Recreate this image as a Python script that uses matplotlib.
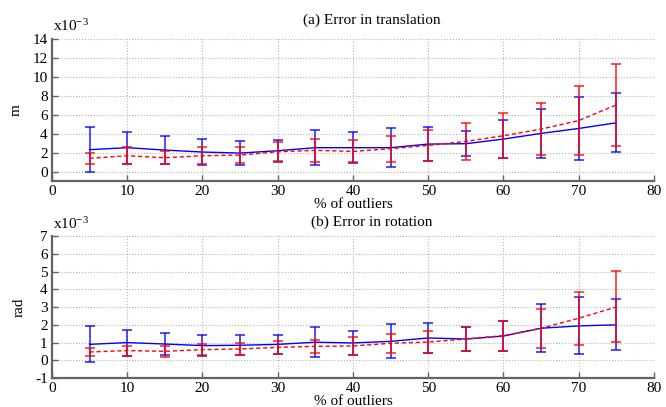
import numpy as np
import matplotlib
matplotlib.use('Agg')
import matplotlib.pyplot as plt

plt.rcParams['font.family'] = ['Liberation Serif', 'DejaVu Serif']
plt.rcParams['mathtext.default'] = 'regular'
plt.rcParams['axes.unicode_minus'] = False
plt.rcParams['font.size'] = 11

##Data (values in units of 1e-3)
outliers = [5, 10, 15, 20, 25, 30, 35, 40, 45, 50, 55, 60, 65, 70, 75]

#(a) translation, blue solid
trans_blue = [2.32, 2.53, 2.28, 2.07, 1.96, 2.21, 2.53, 2.53, 2.53, 2.91, 2.95, 3.44, 4.04, 4.56, 5.16]
trans_blue_err = [2.37, 1.68, 1.50, 1.37, 1.30, 1.17, 1.86, 1.65, 2.08, 1.80, 1.33, 2.04, 2.58, 3.35, 3.10]
#(a) translation, red dashed
trans_red = [1.40, 1.68, 1.47, 1.68, 1.75, 2.10, 2.25, 2.14, 2.42, 2.77, 3.19, 3.79, 4.49, 5.40, 7.05]
trans_red_err = [0.58, 0.87, 0.70, 0.90, 0.84, 0.98, 1.23, 1.16, 1.38, 1.63, 1.93, 2.37, 2.76, 3.60, 4.30]

#(b) rotation, blue solid
rot_blue = [0.90, 1.00, 0.92, 0.83, 0.85, 0.90, 1.02, 0.98, 1.07, 1.26, 1.20, 1.37, 1.81, 1.94, 2.00]
rot_blue_err = [1.02, 0.73, 0.63, 0.58, 0.56, 0.55, 0.85, 0.70, 0.95, 0.82, 0.70, 0.85, 1.35, 1.60, 1.43]
#(b) rotation, red dashed
rot_red = [0.47, 0.55, 0.51, 0.60, 0.64, 0.73, 0.79, 0.81, 0.96, 1.03, 1.20, 1.39, 1.81, 2.37, 3.01]
rot_red_err = [0.20, 0.28, 0.30, 0.32, 0.33, 0.37, 0.38, 0.49, 0.54, 0.60, 0.70, 0.85, 1.10, 1.50, 2.00]

##Layout
fig = plt.figure(figsize=(6.66, 4.07), dpi=100)
ax1 = fig.add_axes([0.078, 0.555, 0.904, 0.349])
ax2 = fig.add_axes([0.078, 0.071, 0.904, 0.349])

axcolor = '#646464'

def style_axis(ax, ylo, yhi, ystep):
	ax.set_xlim(0, 80)
	ax.set_ylim(ylo, yhi)
	ax.set_xticks(np.arange(0, 81, 10))
	ax.set_yticks(np.arange(ylo if ystep == 1 else 0, yhi + 0.1, ystep))
	ax.spines['top'].set_visible(False)
	ax.spines['right'].set_visible(False)
	for s in ['left', 'bottom']:
		ax.spines[s].set_color(axcolor)
		ax.spines[s].set_linewidth(1.6)
	ax.tick_params(direction='in', length=4, width=1, color=axcolor, labelsize=11, pad=3)
	ax.grid(True, linestyle=':', color='#b4b4b4', linewidth=0.8)
	ax.set_axisbelow(True)

style_axis(ax1, -1, 14, 2)
style_axis(ax2, -1, 7, 1)

def plot_pair(ax, xb, yb, eb, yr, er):
	ax.errorbar(xb, yb, yerr=eb, color='blue', linewidth=0, elinewidth=1.3,
		capsize=3.6, capthick=1.3, alpha=0.75)
	ax.plot(xb, yb, color='blue', linewidth=1.0)
	ax.errorbar(xb, yr, yerr=er, color='red', linewidth=0, elinewidth=1.3,
		capsize=3.6, capthick=1.3, alpha=0.75)
	ax.plot(xb, yr, color='red', linewidth=1.0, linestyle=(0, (3, 2)))

plot_pair(ax1, outliers, trans_blue, trans_blue_err, trans_red, trans_red_err)
plot_pair(ax2, outliers, rot_blue, rot_blue_err, rot_red, rot_red_err)

#Labels
ax1.set_ylabel('m', labelpad=7)
ax2.set_ylabel('rad', labelpad=7)
ax1.set_xlabel('% of outliers', labelpad=0)
ax2.set_xlabel('% of outliers', labelpad=0)

fig.text(372/666., 1 - 20/407., '(a) Error in translation', ha='center', va='center', fontsize=11)
fig.text(372/666., 1 - 222/407., '(b) Error in rotation', ha='center', va='center', fontsize=11)

fig.text(53/666., 1 - 26/407., 'x10$^{-3}$', ha='left', va='center', fontsize=11)
fig.text(53/666., 1 - 224/407., 'x10$^{-3}$', ha='left', va='center', fontsize=11)

plt.savefig('out.png', dpi=100)
